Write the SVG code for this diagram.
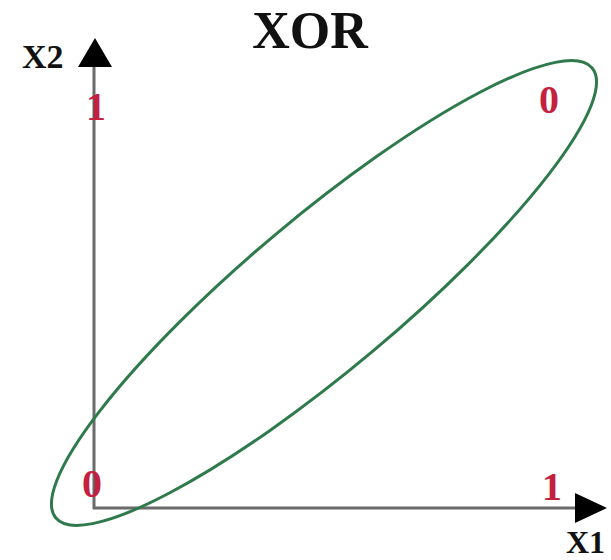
<svg xmlns="http://www.w3.org/2000/svg" width="611" height="560" viewBox="0 0 611 560">
<style>
.lbl{font-family:"Liberation Serif","Times New Roman",serif;font-weight:bold;fill:#111;}
.val{font-family:"Liberation Serif","Times New Roman",serif;font-weight:bold;fill:#c4213f;font-size:40px;text-anchor:middle;}
.axis{stroke:#6b6b6b;stroke-width:3;fill:none;}
</style>
<rect width="611" height="560" fill="#fff"/>
<g id="axes">
<line class="axis" x1="94" y1="66" x2="94" y2="509"/>
<line class="axis" x1="93" y1="508" x2="576" y2="508"/>
<polygon points="95,38 78,67 112,67" fill="#000"/>
<polygon points="607,508 575,493 575,523" fill="#000"/>
</g>
<g id="title"><text class="lbl" x="310" y="48" font-size="52" text-anchor="middle">XOR</text></g>
<g id="x2-label"><text class="lbl" x="22" y="68" font-size="34">X2</text></g>
<g id="x1-label"><text class="lbl" x="566" y="553" font-size="32">X1</text></g>
<g id="ellipse"><ellipse cx="324" cy="293" rx="350" ry="76" transform="rotate(-40 324 293)" fill="none" stroke="#2f7a4c" stroke-width="3"/></g>
<g id="values">
<text class="val" x="96" y="120">1</text>
<text class="val" x="549" y="113">0</text>
<text class="val" x="92" y="497">0</text>
<text class="val" x="552" y="500">1</text>
</g>
</svg>
